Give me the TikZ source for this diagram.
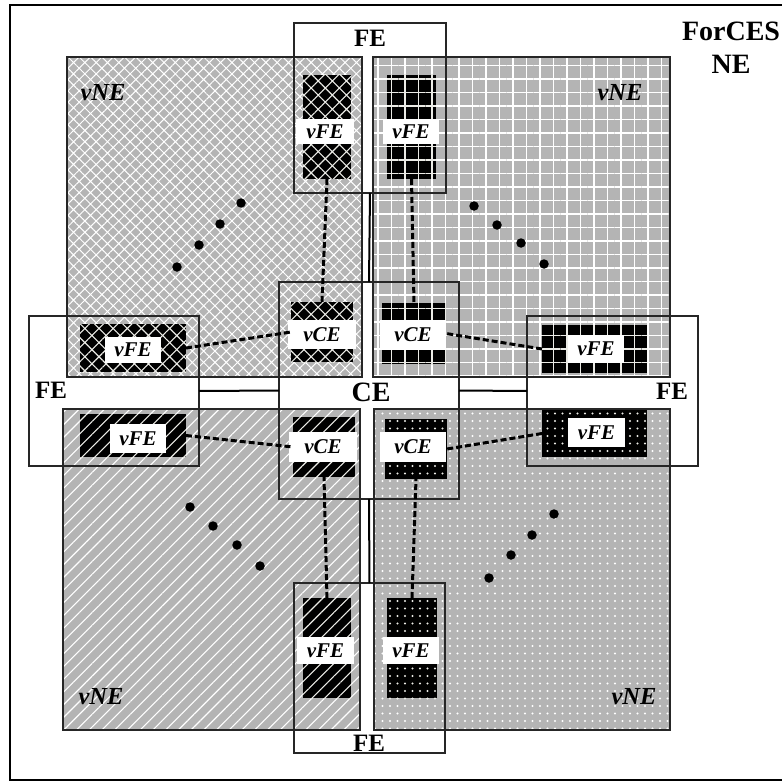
\documentclass[tikz,border=0pt]{standalone}
\usepackage{fontspec}
\setmainfont{Liberation Serif}
\usetikzlibrary{patterns.meta}
\definecolor{qgray}{RGB}{180,180,180}
\definecolor{plight}{RGB}{235,235,230}
\tikzset{
  qborder/.style={postaction={draw=black!85, line width=1.1pt}},
  qxh/.style={fill=qgray, postaction={pattern={Hatch[angle=45,distance=8pt,line width=1pt]}, pattern color=white}, qborder},
  qgrid/.style={fill=qgray, postaction={pattern={Hatch[angle=0,distance=13.5pt,line width=1.4pt]}, pattern color=white}, qborder},
  qlines/.style={fill=qgray, postaction={pattern={Lines[angle=45,distance=9pt,line width=1.1pt]}, pattern color=white}, qborder},
  qdots/.style={fill=qgray, postaction={pattern={Dots[radius=1.1pt,distance=7.5pt]}, pattern color=white}, qborder},
  bxh/.style={fill=black, postaction={pattern={Hatch[angle=45,distance=10pt,line width=1.1pt]}, pattern color=plight}},
  bgrid/.style={fill=black, postaction={pattern={Hatch[angle=0,distance=13.5pt,line width=1.4pt]}, pattern color=plight}},
  blines/.style={fill=black, postaction={pattern={Lines[angle=45,distance=9pt,line width=1.1pt]}, pattern color=plight}},
  bdots/.style={fill=black, postaction={pattern={Dots[radius=1.1pt,distance=7.5pt]}, pattern color=plight}},
  febox/.style={draw=black!85, line width=1.1pt},
  lbl/.style={fill=white, font=\fontsize{21}{25}\selectfont\bfseries\itshape},
  conn/.style={line width=3pt, dash pattern=on 6pt off 3pt},
  thickln/.style={line width=2pt},
  bigtxt/.style={font=\fontsize{25}{30}\selectfont\bfseries},
  cetxt/.style={font=\fontsize{28}{33}\selectfont\bfseries},
  vnetxt/.style={font=\fontsize{24.5}{29}\selectfont\bfseries\itshape},
  titletxt/.style={font=\fontsize{28}{33}\selectfont\bfseries},
  dotn/.style={circle, fill=black, inner sep=0pt, minimum size=9.5pt},
}
\newcommand\rbox[7]{\node[#2, anchor=north west, inner sep=0pt, outer sep=0pt, minimum width={(#5-#3)*1pt}, minimum height={(#6-#4)*1pt}] (#1) at (#3,#4) {#7};}
\begin{document}
\begin{tikzpicture}[x=1pt,y=-1pt]
\useasboundingbox (0,0) rectangle (782,781);
\clip (0,0) rectangle (782,781);
% outer frame
\draw[line width=2.5pt] (10,5) rectangle (800,780);
% quadrants
\rbox{qTL}{qxh}{67}{57}{362}{377}{}
\rbox{qTR}{qgrid}{373}{57}{670}{377}{}
\rbox{qBL}{qlines}{63}{409}{360}{730}{}
\rbox{qBR}{qdots}{374}{409}{670}{730}{}
% FE and CE boxes
\rbox{feT}{febox}{294}{23}{446}{193}{}
\rbox{feB}{febox}{294}{583}{445}{753}{}
\rbox{feL}{febox}{29}{316}{199}{466}{}
\rbox{feR}{febox}{527}{316}{698}{466}{}
\rbox{ce}{febox}{279}{282}{459}{499}{}
% thick links
\draw[thickln] (feT.south) -- (ce.north);
\draw[thickln] (ce.south) -- (feB.north);
\draw[thickln] (feL.east) -- (ce.west);
\draw[thickln] (ce.east) -- (feR.west);
% vFE blocks top
\rbox{fTLt}{bxh}{303}{75}{351}{179}{}
\rbox{lTLt}{lbl}{296}{119}{354}{144}{vFE}
\rbox{fTRt}{bgrid}{387}{75}{436}{179}{}
\rbox{lTRt}{lbl}{383}{119}{439}{144}{vFE}
% vFE blocks bottom
\rbox{fBLb}{blines}{303}{598}{351}{698}{}
\rbox{lBLb}{lbl}{297}{637}{354}{664}{vFE}
\rbox{fBRb}{bdots}{387}{598}{437}{698}{}
\rbox{lBRb}{lbl}{383}{637}{439}{664}{vFE}
% vFE blocks left
\rbox{fTLl}{bxh}{80}{324}{186}{372}{}
\rbox{lTLl}{lbl}{105}{337}{161}{363}{vFE}
\rbox{fBLl}{blines}{80}{414}{186}{457}{}
\rbox{lBLl}{lbl}{110}{424}{166}{453}{vFE}
% vFE blocks right
\rbox{fTRr}{bgrid}{542}{325}{647}{373}{}
\rbox{lTRr}{lbl}{568}{335}{624}{363}{vFE}
\rbox{fBRr}{bdots}{542}{410}{647}{457}{}
\rbox{lBRr}{lbl}{568}{418}{625}{447}{vFE}
% vCE blocks
\rbox{cTL}{bxh}{291}{302}{353}{362}{}
\rbox{lcTL}{lbl}{288}{320}{356}{349}{vCE}
\rbox{cTR}{bgrid}{382}{303}{446}{364}{}
\rbox{lcTR}{lbl}{380}{320}{446}{350}{vCE}
\rbox{cBL}{blines}{293}{417}{355}{477}{}
\rbox{lcBL}{lbl}{289}{432}{357}{462}{vCE}
\rbox{cBR}{bdots}{385}{419}{447}{479}{}
\rbox{lcBR}{lbl}{380}{432}{446}{462}{vCE}
% dashed connectors
\draw[conn] (fTLt.south) -- (cTL.north);
\draw[conn] (fTRt.south) -- (cTR.north);
\draw[conn] (fTLl.east) -- (cTL.west);
\draw[conn] (fBLl.east) -- (cBL.west);
\draw[conn] (fTRr.west) -- (cTR.east);
\draw[conn] (fBRr.west) -- (cBR.east);
\draw[conn] (fBLb.north) -- (cBL.south);
\draw[conn] (fBRb.north) -- (cBR.south);
% texts
\node[bigtxt] (tFEt) at (370,38) {FE};
\node[bigtxt] (tFEb) at (369,743) {FE};
\node[bigtxt] (tFEl) at (51,390) {FE};
\node[bigtxt] (tFEr) at (672,391) {FE};
\node[cetxt] (tCE) at (371,392) {CE};
\node[vnetxt] (vn1) at (103,93) {vNE};
\node[vnetxt] (vn2) at (620,93) {vNE};
\node[vnetxt] (vn3) at (101,697) {vNE};
\node[vnetxt] (vn4) at (634,697) {vNE};
\node[titletxt] (ttl1) at (731,31) {ForCES};
\node[titletxt] (ttl2) at (731,64) {NE};
% ellipsis dots
\node[dotn] (a1) at (177,267) {};
\node[dotn] (a2) at (199,245) {};
\node[dotn] (a3) at (220,224) {};
\node[dotn] (a4) at (241,203) {};
\node[dotn] (b1) at (474,206) {};
\node[dotn] (b2) at (497,225) {};
\node[dotn] (b3) at (521,243) {};
\node[dotn] (b4) at (544,264) {};
\node[dotn] (c1) at (190,507) {};
\node[dotn] (c2) at (213,526) {};
\node[dotn] (c3) at (237,545) {};
\node[dotn] (c4) at (260,566) {};
\node[dotn] (d1) at (489,578) {};
\node[dotn] (d2) at (511,555) {};
\node[dotn] (d3) at (532,535) {};
\node[dotn] (d4) at (554,514) {};
\end{tikzpicture}
\end{document}
